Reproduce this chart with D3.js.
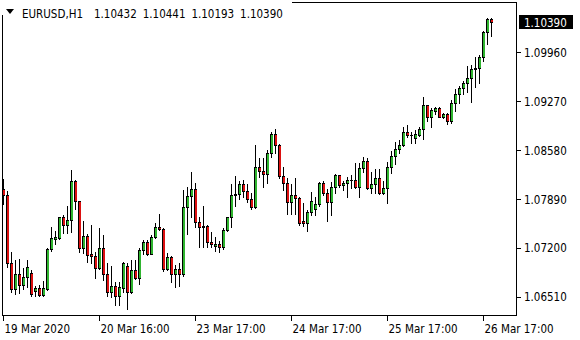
<!DOCTYPE html>
<html>
<head>
<meta charset="utf-8">
<script src="https://cdn.jsdelivr.net/npm/d3@7"></script>
<style>
  body { margin: 0; background: #fff; }
  svg { display: block; }
  text { font-family: "DejaVu Sans Condensed", "DejaVu Sans", sans-serif; font-size: 11.5px; fill: #000; }
</style>
</head>
<body>
<div id="chart"></div>
<script>
// EURUSD H1, one candle per hour from 19 Mar 2020 16:00
var opens = [
  1.08031, 1.07947, 1.06983, 1.06616, 1.06828, 1.06672, 1.06790, 1.06842, 1.06592, 1.06630,
  1.06536, 1.06620, 1.07180, 1.07330, 1.07336, 1.07632, 1.07519, 1.07594, 1.08144, 1.07862,
  1.07195, 1.07368, 1.07110, 1.07090, 1.06912, 1.07203, 1.06828, 1.06582, 1.06667, 1.06526,
  1.06639, 1.06949, 1.06582, 1.06884, 1.06771, 1.07166, 1.07279, 1.07118, 1.07354, 1.07495,
  1.07467, 1.06902, 1.07072, 1.06828, 1.06898, 1.06836, 1.07773, 1.07932, 1.08027, 1.07570,
  1.07491, 1.07509, 1.07288, 1.07231, 1.07255, 1.07209, 1.07453, 1.07632, 1.07942, 1.07955,
  1.08102, 1.07999, 1.07886, 1.07773, 1.08337, 1.08289, 1.08239, 1.08535, 1.08807, 1.08648,
  1.08215, 1.08112, 1.07848, 1.07942, 1.07900, 1.07580, 1.07556, 1.07702, 1.07753, 1.07815,
  1.08120, 1.07971, 1.07852, 1.08055, 1.08225, 1.08083, 1.08112, 1.08155, 1.08158, 1.08055,
  1.08323, 1.08426, 1.08041, 1.08102, 1.08182, 1.07979, 1.08041, 1.08337, 1.08497, 1.08591,
  1.08652, 1.08831, 1.08792, 1.08755, 1.08797, 1.08878, 1.09212, 1.09051, 1.09136, 1.09174,
  1.09051, 1.09085, 1.08995, 1.09240, 1.09367, 1.09452, 1.09523, 1.09593, 1.09720, 1.09734,
  1.09898, 1.10242, 1.10432
];
var highs = [
  1.08172, 1.08003, 1.07138, 1.07029, 1.07044, 1.06912, 1.07029, 1.06888, 1.06667, 1.06677,
  1.06733, 1.07192, 1.07499, 1.07439, 1.07640, 1.07664, 1.07796, 1.08299, 1.08158, 1.07868,
  1.07580, 1.07392, 1.07523, 1.07138, 1.07485, 1.07382, 1.06983, 1.06949, 1.06715, 1.06723,
  1.07005, 1.06990, 1.07029, 1.07029, 1.07195, 1.07312, 1.07312, 1.07382, 1.07547, 1.07674,
  1.07485, 1.07124, 1.07080, 1.06959, 1.06987, 1.08017, 1.08064, 1.08275, 1.08112, 1.07640,
  1.07791, 1.07520, 1.07429, 1.07358, 1.07302, 1.07477, 1.07640, 1.08102, 1.08215, 1.08148,
  1.08158, 1.08102, 1.07971, 1.08652, 1.08464, 1.08464, 1.08582, 1.08831, 1.08878, 1.08666,
  1.08346, 1.08182, 1.08102, 1.08182, 1.07914, 1.07829, 1.07735, 1.07993, 1.07914, 1.08134,
  1.08144, 1.08031, 1.08134, 1.08243, 1.08233, 1.08144, 1.08205, 1.08229, 1.08394, 1.08394,
  1.08487, 1.08464, 1.08275, 1.08313, 1.08309, 1.08144, 1.08416, 1.08572, 1.08699, 1.08723,
  1.08902, 1.08934, 1.08840, 1.08864, 1.08902, 1.09325, 1.09221, 1.09170, 1.09193, 1.09184,
  1.09099, 1.09099, 1.09287, 1.09438, 1.09485, 1.09555, 1.09767, 1.09781, 1.09898, 1.09922,
  1.10265, 1.10440, 1.10441
];
var lows = [
  1.07815, 1.06935, 1.06582, 1.06545, 1.06568, 1.06620, 1.06648, 1.06526, 1.06526, 1.06526,
  1.06517, 1.06602, 1.07156, 1.07255, 1.07326, 1.07406, 1.07406, 1.07429, 1.07749, 1.07138,
  1.07124, 1.07005, 1.06983, 1.06771, 1.06900, 1.06747, 1.06526, 1.06512, 1.06394, 1.06394,
  1.06582, 1.06338, 1.06560, 1.06761, 1.06687, 1.07110, 1.07100, 1.07110, 1.07344, 1.07453,
  1.06874, 1.06888, 1.06723, 1.06653, 1.06663, 1.06804, 1.07396, 1.07640, 1.07499, 1.07217,
  1.07217, 1.07217, 1.07217, 1.07156, 1.07147, 1.07180, 1.07439, 1.07499, 1.07791, 1.07886,
  1.07914, 1.07852, 1.07745, 1.07759, 1.08196, 1.08064, 1.08112, 1.08479, 1.08535, 1.08182,
  1.08017, 1.07679, 1.07679, 1.07679, 1.07519, 1.07509, 1.07443, 1.07664, 1.07664, 1.07791,
  1.07947, 1.07584, 1.07664, 1.07979, 1.08055, 1.08017, 1.07914, 1.08041, 1.08041, 1.07914,
  1.08275, 1.08027, 1.07979, 1.07979, 1.07961, 1.07961, 1.07838, 1.08261, 1.08384, 1.08535,
  1.08638, 1.08769, 1.08676, 1.08685, 1.08779, 1.08733, 1.08991, 1.08910, 1.09085, 1.09043,
  1.09037, 1.08948, 1.08967, 1.09132, 1.09249, 1.09367, 1.09404, 1.09263, 1.09475, 1.09523,
  1.09842, 1.10073, 1.10193
];
var closes = [
  1.07947, 1.06983, 1.06616, 1.06828, 1.06672, 1.06790, 1.06926, 1.06545, 1.06630, 1.06536,
  1.06630, 1.07180, 1.07340, 1.07350, 1.07632, 1.07519, 1.07594, 1.08144, 1.07862, 1.07195,
  1.07368, 1.07100, 1.07086, 1.06912, 1.07203, 1.06828, 1.06582, 1.06667, 1.06526, 1.06653,
  1.06983, 1.06582, 1.06884, 1.06771, 1.07166, 1.07279, 1.07118, 1.07354, 1.07495, 1.07467,
  1.06902, 1.07072, 1.06828, 1.06898, 1.06836, 1.07773, 1.07932, 1.08027, 1.07570, 1.07491,
  1.07509, 1.07288, 1.07251, 1.07255, 1.07209, 1.07453, 1.07632, 1.07942, 1.07955, 1.08102,
  1.07999, 1.07886, 1.07773, 1.08337, 1.08289, 1.08239, 1.08535, 1.08807, 1.08648, 1.08215,
  1.08112, 1.07848, 1.07942, 1.07900, 1.07547, 1.07556, 1.07702, 1.07862, 1.07815, 1.08120,
  1.07971, 1.07852, 1.08055, 1.08225, 1.08083, 1.08120, 1.08158, 1.08160, 1.08055, 1.08323,
  1.08426, 1.08041, 1.08102, 1.08182, 1.07979, 1.08041, 1.08337, 1.08497, 1.08591, 1.08652,
  1.08831, 1.08797, 1.08797, 1.08807, 1.08878, 1.09212, 1.09051, 1.09146, 1.09174, 1.09051,
  1.09085, 1.08995, 1.09240, 1.09367, 1.09452, 1.09523, 1.09593, 1.09720, 1.09734, 1.09898,
  1.10242, 1.10432, 1.10390
];

var priceTicks = [1.06510, 1.07200, 1.07890, 1.08580, 1.09270, 1.09960];
var timeTickBars = [0, 24, 48, 72, 96, 120];
var timeLabels = ["19 Mar 2020", "20 Mar 16:00", "23 Mar 17:00", "24 Mar 17:00", "25 Mar 17:00", "26 Mar 17:00"];
var symbolName = "EURUSD,H1";

var n = opens.length;
var last = n - 1;
var lastPrice = closes[last];

var svg = d3.select("#chart").append("svg")
            .attr("width", 580)
            .attr("height", 340)
            .attr("shape-rendering", "crispEdges");

// 4px per bar
var x = d3.scaleBand()
          .domain(d3.range(n))
          .range([1, 1 + 4 * n]);

var y = d3.scaleLinear()
          .domain([priceTicks[0], priceTicks[priceTicks.length - 1]])
          .range([296.8, 52.3]);

function py(v) { return Math.round(y(v)); }

// chart frame
svg.append("rect")
   .attr("x", 2.5)
   .attr("y", 2.5)
   .attr("width", 514)
   .attr("height", 313)
   .attr("fill", "none")
   .attr("stroke", "#000");

var candles = svg.append("g");

d3.range(n).forEach(function (i) {
  var cx = x(i) + 2;
  var top = py(Math.max(opens[i], closes[i]));
  var bot = py(Math.min(opens[i], closes[i]));
  var up = closes[i] >= opens[i];

  // wick
  candles.append("rect")
         .attr("x", cx)
         .attr("y", py(highs[i]))
         .attr("width", 1)
         .attr("height", py(lows[i]) - py(highs[i]) + 1)
         .attr("fill", "#000");

  // body outline
  candles.append("rect")
         .attr("x", cx - 1)
         .attr("y", top)
         .attr("width", 3)
         .attr("height", bot - top + 1)
         .attr("fill", "#000");

  // body fill, 2px so the colour reads like the original
  if (bot - top >= 2) {
    candles.append("rect")
           .attr("x", cx)
           .attr("y", top + 1)
           .attr("width", 2)
           .attr("height", bot - top - 1)
           .attr("fill", up ? "#2fb42f" : "#dc1010");
  }
});

// price scale on the right
priceTicks.forEach(function (t) {
  svg.append("line")
     .attr("x1", 517)
     .attr("x2", 521)
     .attr("y1", py(t) + 0.5)
     .attr("y2", py(t) + 0.5)
     .attr("stroke", "#000");

  svg.append("text")
     .attr("x", 524)
     .attr("y", y(t) + 4.5)
     .text(t.toFixed(5));
});

svg.append("rect")
   .attr("x", 519)
   .attr("y", py(lastPrice) - 7)
   .attr("width", 54)
   .attr("height", 14)
   .attr("fill", "#000");

svg.append("text")
   .attr("x", 524)
   .attr("y", py(lastPrice) + 4.5)
   .style("fill", "#fff")
   .text(lastPrice.toFixed(5));

// time scale at the bottom
timeTickBars.forEach(function (b, k) {
  var tx = x(b) + 2.5;
  svg.append("line")
     .attr("x1", tx)
     .attr("x2", tx)
     .attr("y1", 316)
     .attr("y2", 321)
     .attr("stroke", "#000");

  svg.append("text")
     .attr("x", tx + 1)
     .attr("y", 333)
     .text(timeLabels[k]);
});

// header with symbol and last bar OHLC
svg.append("rect")
   .attr("x", 0)
   .attr("y", 0)
   .attr("width", 292)
   .attr("height", 15)
   .attr("fill", "#fff");

svg.append("path")
   .attr("d", "M6,9 L14,9 L10,14 Z")
   .attr("fill", "#000")
   .attr("shape-rendering", "auto");

var header = svg.append("text")
                .attr("y", 17.5);

header.append("tspan")
      .attr("x", 22)
      .text(symbolName);

[opens[last], highs[last], lows[last], closes[last]].forEach(function (v, k) {
  header.append("tspan")
        .attr("x", 94 + 48.7 * k)
        .text(v.toFixed(5));
});
</script>
</body>
</html>
